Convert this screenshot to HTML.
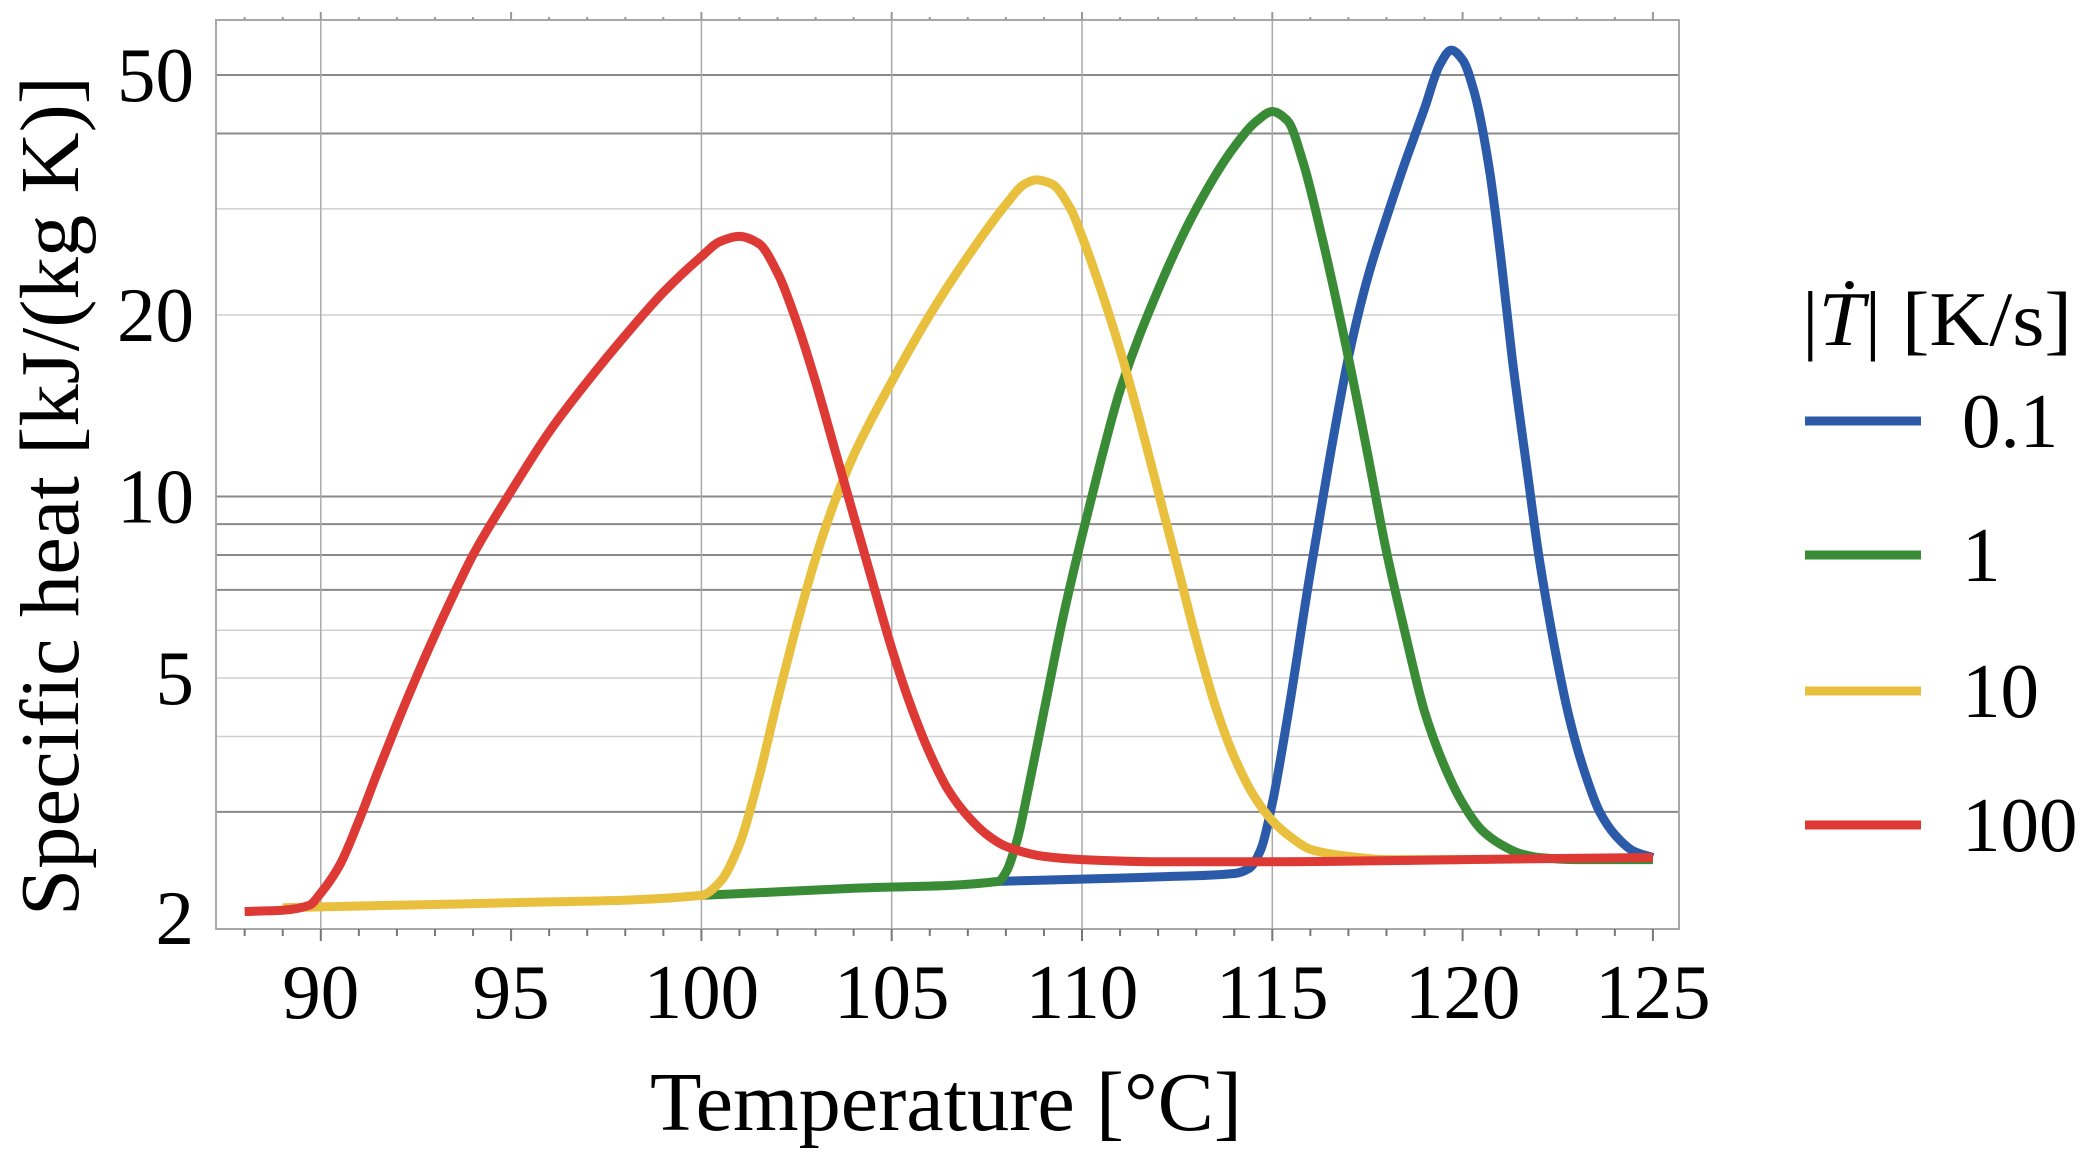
<!DOCTYPE html>
<html><head><meta charset="utf-8">
<style>
html,body{margin:0;padding:0;background:#fff;}
svg{display:block;font-family:"Liberation Serif",serif;}
</style></head>
<body>
<svg id="chart" width="2096" height="1164" viewBox="0 0 2096 1164" xmlns="http://www.w3.org/2000/svg">
<g id="grid"></g>
<g id="axes"></g>
<g id="series"></g>
<text x="946" y="1130" font-size="84" text-anchor="middle" textLength="592" lengthAdjust="spacingAndGlyphs">Temperature [°C]</text>
<text transform="translate(78,496) rotate(-90)" font-size="84" text-anchor="middle" textLength="840" lengthAdjust="spacingAndGlyphs">Specific heat [kJ/(kg K)]</text>
<g id="legend">
<text x="1802" y="345" font-size="77" textLength="270" lengthAdjust="spacingAndGlyphs">|<tspan font-style="italic">Ṫ</tspan>| [K/s]</text>
</g>
</svg>
<script>
const xTicks=[90,95,100,105,110,115,120,125];
const yTicks=[2,5,10,20,50];
const seriesLabels=["0.1","1","10","100"];
const seriesColors=["#2b5ba8","#3a8b36","#e8c03e","#dd3a35"];
const tBlue=[107.8,110,112,114,114.4,114.7,115,115.4,116,116.5,117,117.5,118,118.5,119,119.4,119.7,120,120.3,120.7,121,121.3,121.7,122,122.4,122.8,123.2,123.6,124,124.5,125];
const cBlue=[2.3,2.32,2.34,2.37,2.42,2.6,3.1,4.3,7.5,11.5,17,23,29,36,44,52,55,53,47,35,25,17,11,8,5.7,4.3,3.5,3.0,2.75,2.58,2.52];
const tGreen=[100,104,107.8,108,108.3,108.6,109,109.5,110,110.5,111,112,113,114,114.6,115,115.4,115.8,116.3,117,117.5,118,118.5,119,119.5,120,120.5,121,121.5,122,123,125];
const cGreen=[2.18,2.24,2.3,2.38,2.7,3.3,4.4,6.3,8.6,11.5,15,22,30,38,42,43.5,42,36,27,17,11.8,8.1,5.9,4.4,3.6,3.1,2.8,2.65,2.56,2.52,2.5,2.5];
const tYellow=[89,92,95,100,100.5,101,101.5,102,102.5,103,103.5,104,105,106,107,108,108.5,108.8,109.2,109.7,110,110.5,111,111.5,112,112.5,113,113.5,114,114.5,115,115.5,116,117,118,120];
const cYellow=[2.08,2.1,2.12,2.18,2.3,2.65,3.4,4.6,6.1,7.9,9.8,11.7,15.5,20,25,30.5,33,33.5,33,30,27,22,17.5,13.5,10.2,7.7,5.8,4.5,3.7,3.2,2.9,2.72,2.6,2.53,2.5,2.5];
const tRed=[88,89,89.7,90,90.5,91,91.5,92,92.5,93,93.5,94,95,96,97,98,99,100,100.5,101,101.5,102,102.5,103,103.5,104,104.5,105,105.5,106,106.5,107,107.5,108,109,110,112,115,120,125];
const cRed=[2.05,2.06,2.1,2.2,2.45,2.9,3.5,4.2,5.0,5.9,6.9,8.0,10.2,12.8,15.5,18.5,21.8,25,26.5,27,26.3,23.5,19.5,15.5,12,9.3,7.2,5.6,4.5,3.75,3.25,2.95,2.75,2.63,2.53,2.5,2.48,2.48,2.5,2.52];
const ts=[tBlue,tGreen,tYellow,tRed], cs=[cBlue,cGreen,cYellow,cRed];

const L=216,R=1679,T=20,B=929;
function X(t){return 320.8+(t-90)*38.06;}
function Y(v){return 918-Math.log10(v/2)*603;}
const NS="http://www.w3.org/2000/svg";
function mk(tag,parent,attrs){const e=document.createElementNS(NS,tag);for(const k in attrs)e.setAttribute(k,attrs[k]);parent.appendChild(e);return e;}
const grid=document.getElementById('grid'),axes=document.getElementById('axes'),ser=document.getElementById('series'),leg=document.getElementById('legend');

const hGrid=[3,4,5,6,7,8,9,10,20,30,40,50];
const hDark=[3,7,8,9,10,40,50];
hGrid.forEach(v=>{
  const l=mk('line',grid,{x1:L,x2:R,y1:Y(v),y2:Y(v),stroke:hDark.includes(v)?'#8a8a8a':'#cfcfcf','stroke-width':hDark.includes(v)?2:1.5});
  
  
});
const vGrid=[90,100,105,110,115];
vGrid.forEach(t=>{
  const l=mk('line',grid,{x1:X(t),x2:X(t),y1:T,y2:B,stroke:'#aaaaaa','stroke-width':1.5});
  
  
});
const fr=mk('rect',axes,{x:L,y:T,width:R-L,height:B-T,fill:'none',stroke:'#a8a8a8','stroke-width':2});


for(let t=88;t<=125;t++){
  const len=(t%5===0)?12:7;
  mk('line',axes,{x1:X(t),x2:X(t),y1:B,y2:B+len,stroke:'#777','stroke-width':2});
  mk('line',axes,{x1:X(t),x2:X(t),y1:T,y2:T-len+4,stroke:'#999','stroke-width':2});
}
xTicks.forEach(t=>{
  const e=mk('text',axes,{x:X(t),y:1018,'font-size':77,'text-anchor':'middle'});
  e.textContent=t;
  
  
});
yTicks.forEach(v=>{
  const e=mk('text',axes,{x:194,y:Y(v)+26,'font-size':77,'text-anchor':'end'});
  e.textContent=v;
  
  
});
// monotone cubic (Fritsch-Carlson)
function path(pts){
  const n=pts.length, d=[], m=new Array(n);
  for(let i=0;i<n-1;i++) d.push((pts[i+1][1]-pts[i][1])/(pts[i+1][0]-pts[i][0]));
  m[0]=d[0]; m[n-1]=d[n-2];
  for(let i=1;i<n-1;i++){
    if(d[i-1]*d[i]<=0) m[i]=0;
    else {const h0=pts[i][0]-pts[i-1][0],h1=pts[i+1][0]-pts[i][0];const w1=2*h1+h0,w2=h1+2*h0;m[i]=(w1+w2)/(w1/d[i-1]+w2/d[i]);}
  }
  let s='M'+pts[0][0].toFixed(1)+','+pts[0][1].toFixed(1);
  for(let i=0;i<n-1;i++){
    const h=(pts[i+1][0]-pts[i][0])/3;
    s+=' C'+(pts[i][0]+h).toFixed(1)+','+(pts[i][1]+m[i]*h).toFixed(1)+' '+(pts[i+1][0]-h).toFixed(1)+','+(pts[i+1][1]-m[i+1]*h).toFixed(1)+' '+pts[i+1][0].toFixed(1)+','+pts[i+1][1].toFixed(1);
  }
  return s;
}
[0,1,2,3].forEach(i=>{
  const pts=ts[i].map((t,j)=>[X(t),Y(cs[i][j])]);
  const p=mk('path',ser,{d:path(pts),fill:'none',stroke:seriesColors[i],'stroke-width':9,'stroke-linejoin':'round','stroke-linecap':'butt'});
  
  
});
const legY=[421,555,691,825];
seriesLabels.forEach((s,i)=>{
  const l=mk('line',leg,{x1:1805,x2:1921,y1:legY[i],y2:legY[i],stroke:seriesColors[i],'stroke-width':9});
  
  
  const e=mk('text',leg,{x:1962,y:legY[i]+26,'font-size':77});
  e.textContent=s;
  
  
});
</script>
</body></html>
